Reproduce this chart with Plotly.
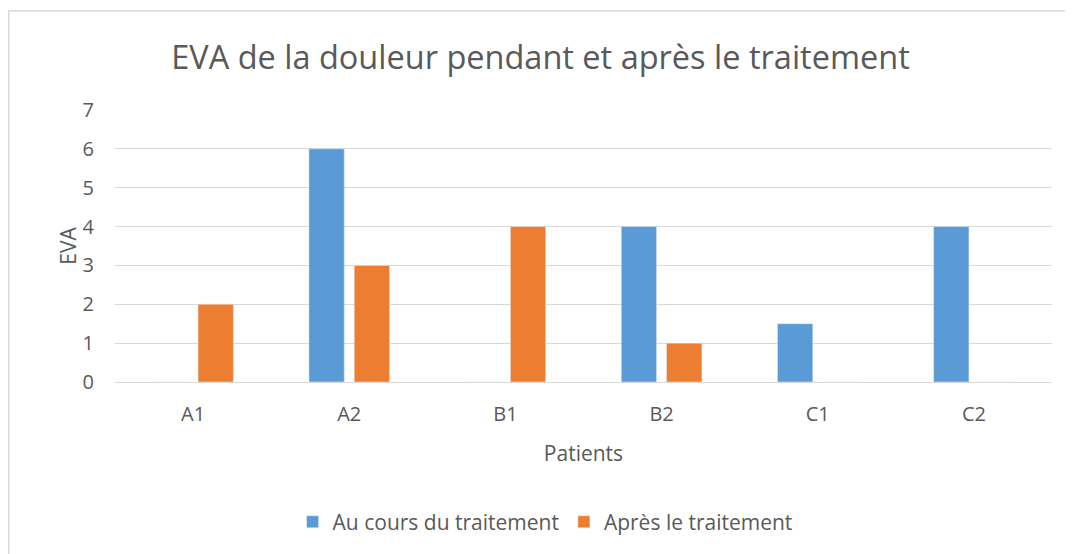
import plotly.graph_objects as go

# EVA (douleur) par patient, pendant et après le traitement
patients = ['A1', 'A2', 'B1', 'B2', 'C1', 'C2']
eva_pendant = [0, 6, 0, 4, 1.5, 4]
eva_apres = [2, 3, 4, 1, 0, 0]

TXT = '#595959'
GRID = '#D9D9D9'
FONT = 'Open Sans'

fig = go.Figure()
fig.add_trace(go.Bar(x=patients, y=eva_pendant, name='Au cours du traitement',
                     marker_color='#5B9BD5'))
fig.add_trace(go.Bar(x=patients, y=eva_apres, name='Après le traitement',
                     marker_color='#ED7D31'))

# la page a une marge de 8px : on réduit la figure d'autant
fig.update_layout(
    width=1065, height=546,
    margin=dict(l=107, r=21, t=102, b=172),
    paper_bgcolor='white', plot_bgcolor='white',
    font=dict(family=FONT, color=TXT, size=20),
    barmode='group', bargap=0.42, bargroupgap=0.22,
    title=dict(text='EVA de la douleur pendant et après le traitement',
               x=0.5, xanchor='center', y=0.91, yanchor='middle',
               font=dict(size=32.5, color=TXT, family=FONT)),
    legend=dict(orientation='h', x=0.459, xanchor='center', y=-0.515, yanchor='middle',
                font=dict(size=21, color=TXT)),
    showlegend=True,
)

fig.update_yaxes(range=[0, 7], dtick=1, showgrid=True, gridcolor=GRID, gridwidth=1,
                 zeroline=False, showline=False,
                 ticks='outside', ticklen=16, tickcolor='rgba(0,0,0,0)',
                 tickfont=dict(size=20, color=TXT),
                 title=dict(text='EVA', font=dict(size=21, color=TXT), standoff=0))
fig.update_xaxes(showgrid=False, showline=True, linecolor=GRID, linewidth=1,
                 ticks='outside', ticklen=14, tickcolor='rgba(0,0,0,0)',
                 tickfont=dict(size=20, color=TXT),
                 title=dict(text='Patients', font=dict(size=21, color=TXT), standoff=20))

# cadre gris clair du graphique
fig.add_shape(type='rect', xref='paper', yref='paper',
              x0=-0.1134, x1=1.2, y0=-1.0, y1=1.364,
              line=dict(color='#D9D9D9', width=1.5), layer='below')

fig.write_html('out.html')
